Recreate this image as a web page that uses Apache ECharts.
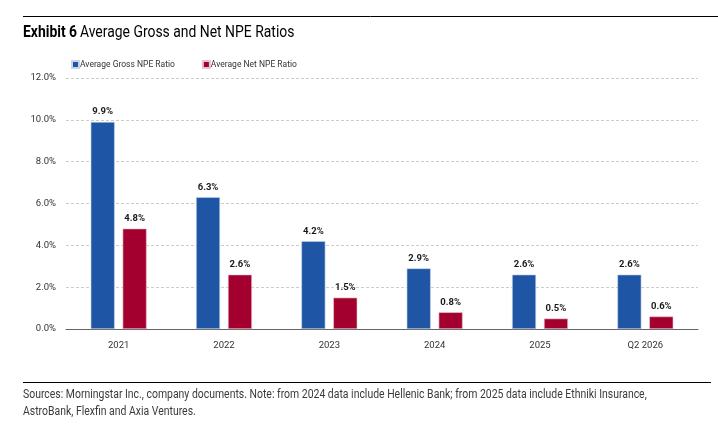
<!DOCTYPE html>
<html><head><meta charset="utf-8">
<script src="https://cdn.jsdelivr.net/npm/echarts@6/dist/echarts.min.js"></script>
<style>html,body{margin:0;padding:0;background:#fff;}#c{width:718px;height:435px;}</style>
</head><body><div id="c"></div>
<script>
const categories = ['2021','2022','2023','2024','2025','Q2 2026'];
const grossNPE = [9.9, 6.3, 4.2, 2.9, 2.6, 2.6];
const netNPE = [4.8, 2.6, 1.5, 0.8, 0.5, 0.6];
const seriesNames = ['Average Gross NPE Ratio','Average Net NPE Ratio'];
const FONT = '"Roboto", sans-serif';
const chart = echarts.init(document.getElementById('c'), null, {renderer:'canvas'});
const labelOpt = {show:true, position:'top', distance:5, fontFamily:FONT, fontWeight:'bold', fontSize:9.5, color:'#1a1a1a', formatter: p => p.value.toFixed(1) + '%'};
chart.setOption({
  backgroundColor:'#fff',
  animation:false,
  textStyle:{fontFamily:FONT},
  legend:{
    left:66, top:55, itemWidth:7, itemHeight:7, itemGap:27, icon:'rect',
    textStyle:{fontFamily:FONT, fontSize:8.5, color:'#333', padding:[0,0,0,-4]},
    data:seriesNames
  },
  grid:{left:66, right:20, top:78, bottom:106, containLabel:false},
  xAxis:{
    type:'category', data:categories,
    axisLine:{lineStyle:{color:'#666', width:1.2}},
    axisTick:{show:false},
    axisLabel:{fontFamily:FONT, fontSize:9.5, color:'#333', margin:12}
  },
  yAxis:{
    type:'value', min:0, max:12, interval:2,
    axisLine:{show:false}, axisTick:{show:false},
    splitLine:{lineStyle:{color:'#ccc', type:[3,2], width:1}},
    axisLabel:{fontFamily:FONT, fontSize:9.5, color:'#333', margin:10, formatter: v => v.toFixed(1) + '%'}
  },
  series:[
    {name:seriesNames[0], type:'bar', data:grossNPE, barWidth:24, barGap:'33%',
     itemStyle:{color:'#1F55A5', borderColor:'#c9d4e8', borderWidth:0.6}, label:labelOpt},
    {name:seriesNames[1], type:'bar', data:netNPE, barWidth:24,
     itemStyle:{color:'#A3002F', borderColor:'#e6c4cc', borderWidth:0.6}, label:labelOpt}
  ],
  graphic:[
    {type:'line', shape:{x1:23,y1:16.5,x2:718,y2:16.5}, style:{stroke:'#000', lineWidth:1}},
    {type:'line', shape:{x1:23,y1:382.5,x2:711,y2:382.5}, style:{stroke:'#000', lineWidth:1}},
    {type:'text', x:23, y:33, scaleX:0.87, originX:0, style:{
      text:'{b|Exhibit 6} {r|Average Gross and Net NPE Ratios}', verticalAlign:'middle',
      rich:{
        b:{fontFamily:FONT, fontWeight:'bold', fontSize:16, fill:'#000'},
        r:{fontFamily:FONT, fontWeight:'normal', fontSize:16, fill:'#000'}
      }}},
    {type:'text', x:23, y:386, scaleX:0.87, originX:0, style:{
      text:'Sources: Morningstar Inc., company documents. Note: from 2024 data include Hellenic Bank; from 2025 data include Ethniki Insurance,\nAstroBank, Flexfin and Axia Ventures.',
      fontFamily:FONT, fontSize:12, lineHeight:17, fill:'#3a3a3a'}}
  ]
});
</script></body></html>
